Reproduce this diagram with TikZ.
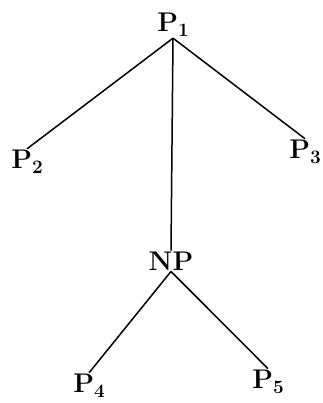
\documentclass[tikz,border=0pt]{standalone}
\usepackage{tikz}
\usetikzlibrary{positioning}
\newcommand\idx[1]{\raisebox{-0.45ex}{\fontsize{19}{20}\selectfont #1}}

\begin{document}
\begin{tikzpicture}[x=1pt,y=-1pt,
    lbl/.style={inner sep=1pt,font=\fontsize{27}{30}\selectfont\bfseries},
    edge/.style={line width=1.5pt}]
    \useasboundingbox (0,0) rectangle (322,403);
    \node[lbl] (p1) at (173,25) {P\idx{1}};
    \node[lbl] (p2) at (27,162) {P\idx{2}};
    \node[lbl] (p3) at (305,152) {P\idx{3}};
    \node[lbl] (np) at (171,261) {NP};
    \node[lbl] (p4) at (89,386) {P\idx{4}};
    \node[lbl] (p5) at (268,382) {P\idx{5}};
    \draw[edge] (p1.south) -- (p2.north);
    \draw[edge] (p1.south) -- (p3.north);
    \draw[edge] (p1.south) -- (np.north);
    \draw[edge] (np.south) -- (p4.north);
    \draw[edge] (np.south) -- (p5.north);
  \end{tikzpicture}
\end{document}
